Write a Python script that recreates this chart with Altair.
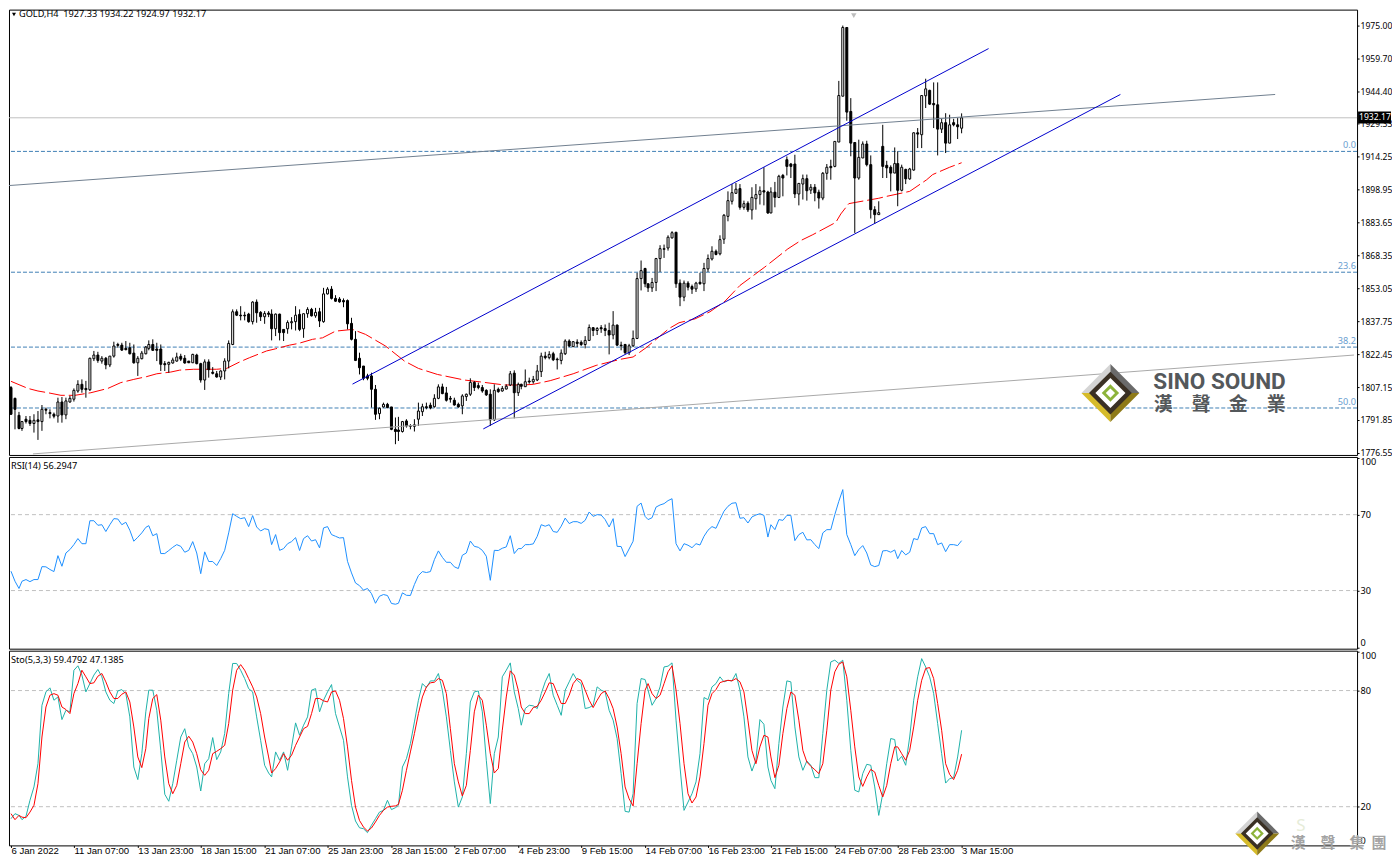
import altair as alt
import pandas as pd

# ---- price panel values, read bar by bar (H4 bars) ----
direction = ("BBBWBBWBWB" "BBWBWWWWBB" "WWBWBWWBBB" "BBWWWWBBBB" "WWWBBBWBBW" "BBBWWWWBBB" "BWBBWBBWBB" "WWWBWWBWBW"
             "WBBBBBBBBB" "BBBWWBBBBW" "BWWWWBBWWB" "BBBBWWWBBB" "BBWBWWWBWB" "WBWWWBWBBW" "WBWBBWWBWB" "BBWBBBWWWW"
             "BBWWWWWWBB" "WBBWBWWWBW" "WWWWBWBWWW" "BBWBWBBBBW" "WBWBBWWBWW" "WBBBWWBBBW" "BBBWBWBWWB" "WWBBBWBWBB" "W")
highs = [1807.6,1802.2,1795.6,1791.4,1793.7,1793.7,1794.5,1796.0,1798.8,1797.6,
1796.8,1795.3,1802.2,1802.5,1802.2,1803.0,1806.5,1810.3,1810.7,1810.0,
1820.8,1823.9,1823.5,1821.5,1821.1,1821.5,1828.2,1827.7,1827.7,1828.5,
1827.7,1826.9,1821.5,1823.9,1826.2,1828.8,1829.3,1827.7,1826.9,1819.2,
1818.9,1820.8,1823.1,1822.6,1822.0,1819.2,1822.6,1822.6,1818.4,1820.0,
1820.0,1816.4,1814.6,1814.9,1820.5,1828.8,1843.2,1843.2,1844.7,1842.1,
1841.6,1847.0,1847.8,1842.4,1842.4,1842.4,1843.2,1841.3,1841.2,1833.9,
1838.1,1839.6,1844.7,1843.2,1841.2,1844.2,1843.9,1843.9,1843.9,1853.2,
1853.5,1854.0,1849.8,1848.9,1848.3,1847.8,1839.3,1833.1,1823.1,1816.9,
1813.3,1813.8,1808.1,1797.6,1799.9,1799.8,1797.9,1793.0,1793.3,1791.4,
1792.2,1789.9,1792.2,1799.9,1799.4,1799.9,1799.9,1803.8,1808.4,1808.7,
1807.2,1803.0,1802.2,1799.9,1803.8,1804.1,1811.2,1809.9,1809.2,1808.1,
1806.1,1806.1,1808.4,1806.9,1807.6,1808.4,1814.6,1814.9,1809.2,1808.7,
1815.3,1811.5,1812.3,1817.4,1823.1,1823.5,1823.8,1823.5,1820.8,1824.6,
1829.3,1829.3,1828.5,1829.3,1828.8,1830.8,1836.2,1835.0,1835.0,1835.9,
1836.2,1837.0,1842.4,1836.2,1828.2,1827.2,1827.2,1833.4,1860.2,1865.9,
1862.5,1855.1,1857.8,1867.1,1873.0,1873.3,1877.6,1879.5,1879.2,1857.1,
1856.6,1856.3,1854.7,1856.0,1860.2,1864.8,1868.7,1872.5,1871.0,1877.6,
1887.5,1898.0,1901.4,1901.9,1901.4,1893.7,1893.4,1899.9,1901.4,1900.3,
1909.2,1898.3,1899.9,1902.4,1905.7,1906.1,1914.2,1911.2,1915.0,1901.9,
1905.8,1905.8,1901.4,1901.4,1898.8,1907.0,1910.7,1912.7,1921.2,1949.3,
1975.0,1974.1,1941.3,1920.9,1922.0,1921.2,1921.5,1914.7,1891.1,1893.4,
1928.9,1912.2,1910.1,1918.4,1916.6,1910.4,1908.5,1908.9,1925.4,1927.4,
1942.5,1950.3,1945.2,1948.6,1948.6,1931.7,1934.3,1933.6,1931.7,1932.0,
1934.22]
body_top = [1806.9,1801.9,1794.0,1791.1,1792.2,1791.7,1791.7,1791.9,1796.8,1796.8,
1795.3,1794.5,1800.2,1800.2,1800.7,1801.9,1805.6,1808.4,1808.4,1806.5,
1820.5,1822.0,1822.0,1820.5,1820.5,1821.5,1826.2,1826.9,1826.6,1825.1,
1825.4,1822.9,1820.5,1822.9,1825.7,1826.9,1826.9,1824.8,1824.8,1818.0,
1818.6,1819.7,1821.1,1821.4,1820.5,1819.2,1822.3,1822.0,1818.0,1818.8,
1818.8,1814.0,1813.3,1814.6,1819.2,1827.4,1842.1,1842.1,1840.5,1840.5,
1841.0,1846.6,1846.6,1841.8,1841.3,1841.5,1841.0,1841.0,1841.0,1833.9,
1837.1,1837.5,1840.5,1840.9,1841.2,1843.2,1843.2,1841.8,1842.1,1850.4,
1852.6,1852.6,1848.3,1848.0,1847.3,1847.3,1836.7,1829.3,1820.5,1816.9,
1812.3,1812.3,1806.1,1797.3,1799.1,1799.1,1797.9,1787.5,1787.2,1791.1,
1791.4,1789.2,1789.6,1796.0,1798.0,1798.0,1798.7,1801.9,1807.2,1807.2,
1804.4,1801.9,1801.0,1799.1,1803.0,1803.8,1809.3,1809.3,1807.8,1806.9,
1805.6,1803.8,1805.6,1806.1,1806.5,1807.5,1813.3,1813.6,1808.4,1808.4,
1809.6,1809.9,1810.7,1814.6,1821.5,1821.5,1822.3,1822.6,1820.1,1822.9,
1828.5,1828.5,1828.2,1828.0,1827.9,1828.8,1834.8,1834.7,1834.3,1834.7,
1834.3,1833.4,1835.9,1835.9,1826.6,1826.9,1826.3,1829.7,1857.5,1861.2,
1862.2,1855.1,1855.7,1866.8,1871.4,1871.4,1876.7,1878.8,1879.0,1855.4,
1855.4,1855.4,1853.8,1855.4,1855.8,1862.2,1866.8,1870.2,1870.2,1875.6,
1886.9,1893.7,1897.4,1899.0,1899.3,1892.3,1892.5,1895.2,1896.5,1898.3,
1898.3,1897.7,1897.7,1897.6,1905.0,1905.4,1912.7,1910.7,1910.7,1901.7,
1903.9,1903.9,1899.9,1899.9,1897.6,1906.4,1909.2,1909.6,1921.2,1942.5,
1974.1,1974.1,1935.1,1920.7,1913.8,1920.0,1920.0,1910.4,1889.5,1888.1,
1918.9,1910.1,1909.2,1910.9,1910.9,1909.2,1908.2,1908.4,1925.2,1925.2,
1942.5,1945.6,1944.9,1938.8,1938.2,1929.9,1929.9,1928.9,1929.9,1928.9,
1932.17]
body_bottom = [1794.5,1796.8,1787.9,1787.9,1791.1,1790.2,1790.2,1791.1,1791.1,1796.4,
1794.8,1793.6,1793.7,1794.2,1794.2,1800.2,1801.5,1805.3,1806.1,1805.9,
1805.9,1820.3,1819.5,1819.2,1817.4,1817.4,1821.5,1826.5,1824.3,1824.5,
1822.6,1818.4,1818.4,1820.3,1822.6,1825.1,1824.2,1824.2,1817.7,1817.5,
1817.7,1818.3,1819.2,1820.1,1818.3,1818.4,1818.4,1818.0,1810.4,1810.4,
1815.2,1813.5,1811.8,1811.8,1814.6,1819.2,1826.9,1840.5,1840.2,1840.2,
1837.5,1837.5,1841.6,1839.8,1839.8,1840.9,1834.2,1834.2,1832.4,1832.4,
1834.2,1837.0,1837.5,1833.9,1834.2,1841.2,1840.2,1840.2,1837.8,1837.5,
1850.4,1848.3,1847.0,1846.7,1846.7,1836.5,1829.3,1819.5,1816.1,1811.2,
1811.2,1806.1,1794.5,1794.8,1797.9,1797.6,1787.5,1786.5,1786.5,1786.5,
1789.1,1788.9,1788.9,1792.2,1795.7,1797.6,1797.4,1798.0,1801.9,1804.1,
1801.0,1801.5,1798.8,1797.9,1798.4,1802.7,1803.8,1806.9,1806.9,1805.3,
1803.5,1791.9,1791.9,1805.0,1805.3,1806.2,1808.1,1804.5,1804.5,1807.5,
1807.3,1809.5,1809.6,1810.4,1814.3,1820.8,1820.8,1819.8,1819.8,1819.5,
1822.6,1826.2,1825.9,1827.4,1826.9,1826.9,1828.8,1833.4,1833.4,1834.2,
1833.4,1831.3,1831.3,1826.6,1826.3,1823.1,1823.1,1826.3,1829.7,1857.5,
1855.1,1853.2,1853.2,1855.7,1866.8,1871.1,1871.7,1876.4,1855.1,1848.9,
1848.9,1853.5,1852.6,1852.7,1855.1,1855.1,1862.0,1866.6,1868.7,1869.0,
1875.8,1886.4,1893.4,1897.1,1890.6,1890.6,1889.4,1889.4,1894.6,1896.5,
1897.7,1888.0,1888.0,1895.2,1895.2,1904.2,1909.6,1909.6,1896.8,1896.8,
1901.4,1898.3,1898.6,1897.3,1894.9,1894.9,1906.4,1909.0,1909.6,1920.9,
1942.2,1934.8,1920.4,1904.2,1904.2,1913.5,1910.4,1889.5,1887.2,1887.2,
1909.6,1908.9,1906.5,1906.5,1898.5,1898.5,1903.8,1903.8,1907.9,1924.6,
1924.3,1942.4,1938.5,1938.2,1926.9,1926.9,1920.4,1920.4,1928.9,1928.0,
1927.33]
lows = [1794.2,1787.5,1787.5,1786.8,1790.2,1789.1,1786.0,1782.6,1786.8,1794.5,
1792.6,1792.6,1790.6,1790.6,1792.2,1799.9,1800.4,1804.5,1804.5,1802.2,
1805.3,1819.2,1818.4,1818.0,1815.4,1816.4,1820.8,1825.4,1823.9,1824.2,
1822.3,1818.0,1812.3,1820.0,1822.3,1824.2,1823.9,1819.2,1814.6,1814.6,
1813.8,1818.0,1818.9,1819.2,1818.0,1818.3,1818.3,1817.7,1809.2,1805.8,
1811.5,1813.0,1811.5,1810.4,1810.7,1815.8,1826.6,1840.1,1838.1,1838.1,
1837.0,1836.2,1837.0,1837.8,1836.5,1839.6,1828.8,1830.8,1828.8,1828.5,
1831.9,1833.9,1833.4,1833.1,1830.0,1839.3,1839.9,1839.3,1835.0,1837.0,
1850.1,1847.8,1846.7,1846.3,1844.2,1833.9,1828.8,1819.2,1813.0,1810.3,
1810.3,1797.6,1791.9,1792.2,1797.6,1797.3,1787.1,1780.6,1782.1,1786.0,
1788.3,1787.5,1786.5,1789.1,1793.7,1796.8,1796.8,1797.6,1801.5,1803.8,
1800.4,1799.9,1798.5,1797.6,1794.5,1800.7,1803.0,1805.3,1806.1,1804.5,
1803.0,1789.1,1791.4,1804.5,1805.0,1806.1,1807.6,1792.6,1803.0,1806.1,
1807.2,1808.7,1808.7,1809.9,1811.8,1820.0,1820.0,1819.2,1815.3,1817.7,
1822.0,1825.7,1825.7,1825.7,1826.2,1825.1,1828.5,1830.8,1831.3,1832.3,
1830.8,1822.3,1829.3,1826.2,1824.2,1822.3,1822.0,1825.7,1829.4,1852.0,
1853.5,1851.3,1851.3,1851.7,1860.6,1867.1,1870.5,1876.1,1853.2,1844.7,
1847.0,1852.0,1850.4,1851.3,1854.7,1851.7,1860.6,1865.9,1868.3,1868.3,
1873.6,1884.1,1891.9,1896.8,1889.5,1889.5,1888.4,1884.9,1889.5,1891.9,
1891.5,1887.5,1887.8,1890.6,1894.9,1895.7,1905.4,1904.2,1894.9,1891.5,
1894.2,1893.7,1896.8,1893.4,1890.0,1893.9,1903.4,1903.4,1909.2,1920.9,
1942.1,1930.8,1914.3,1878.7,1903.4,1913.5,1909.6,1885.4,1882.9,1887.2,
1904.2,1904.2,1898.0,1906.5,1891.1,1898.0,1901.4,1903.4,1907.6,1918.1,
1918.1,1936.7,1938.2,1927.4,1914.7,1925.1,1915.8,1920.4,1928.2,1922.3,
1924.97]

ma_bars = [0,4.5,7,9.5,12.8,16.2,20.3,24.5,27.8,31.2,34.5,37,40.3,42.8,46.2,52,54.5,57.8,60.3,64.5,67,70.3,72.8,76.2,78.7,82,86.2,89.5,94.5,99.5,102.8,107.8,114.5,
119.5,124.5,129.5,132,136.2,142,147.8,153.7,157,160.3,166.2,168.7,172.8,176.6,180.3,184.1,190.3,196.2,199.5,202.4,208.2,209.5,211.6,213.2,219.1,221.2,225.3,227,231.2,232.8,237,239.9]
ma_vals = [1809.8,1806.5,1805.3,1804.5,1803.3,1803.3,1804.5,1806.5,1809.2,1810.7,1812.0,1813.3,1814.1,1815.0,1815.4,1815.4,1815.8,1818.8,1820.8,1823.9,1824.9,1826.6,1827.4,1829.3,1830.0,1833.1,1833.9,1831.6,1826.2,1819.2,1815.8,1813.0,1810.4,
1809.3,1808.1,1808.1,1808.4,1810.1,1813.3,1817.2,1820.0,1821.1,1825.4,1834.3,1837.0,1838.8,1842.1,1847.0,1854.3,1862.9,1871.3,1875.2,1877.9,1883.6,1887.5,1892.3,1892.9,1894.8,1895.7,1897.4,1898.0,1903.4,1905.8,1909.2,1911.3]

rsi = [40.2,34.9,31.1,34.9,35.8,34.7,35.8,35.8,42.6,42.5,41.1,40.0,48.4,42.8,49.8,51.6,54.2,57.4,54.7,54.7,
66.8,66.8,64.4,64.7,61.1,64.7,67.9,67.7,64.7,66.0,61.8,56.0,58.1,60.4,63.3,64.2,58.9,60.0,49.5,49.5,
51.1,52.8,54.2,53.3,50.2,51.2,55.8,49.8,38.9,50.4,45.3,45.3,43.2,46.8,51.2,60.4,70.5,69.1,67.9,68.4,
63.7,69.5,63.5,61.4,62.6,62.1,54.2,59.5,51.2,52.1,54.7,55.8,57.9,51.1,57.4,58.9,56.1,56.8,52.5,63.0,
63.7,59.5,58.6,57.7,57.9,45.4,39.3,34.0,32.6,30.2,31.1,28.4,23.3,27.0,27.9,27.4,23.2,22.8,23.3,28.8,
27.5,27.4,33.2,37.9,40.0,39.5,40.0,46.3,50.9,47.5,44.9,44.9,42.5,41.6,48.6,49.8,56.1,53.3,52.8,51.2,
48.1,35.4,51.2,51.1,52.3,53.0,58.9,49.5,52.1,52.1,54.2,54.2,54.6,58.6,64.7,63.9,64.7,61.1,60.7,63.9,
68.2,65.3,66.3,66.3,65.4,67.0,71.4,69.1,70.0,69.8,67.4,63.5,67.9,53.3,53.2,47.9,51.9,56.0,74.4,76.1,
69.1,67.4,68.4,74.0,75.1,75.8,77.4,78.4,54.7,50.9,54.7,53.9,52.6,54.7,54.0,58.6,61.8,63.7,62.8,67.4,
71.8,74.4,76.0,76.3,68.1,68.4,65.6,68.8,69.8,70.5,69.6,58.2,64.7,62.1,67.4,67.0,69.6,69.6,56.3,59.5,
60.7,56.7,56.8,54.2,52.1,60.4,62.1,62.1,70.0,77.0,83.2,59.5,54.2,48.4,51.6,53.7,49.8,43.5,42.6,43.2,
50.9,51.1,50.2,51.4,46.8,51.1,48.8,50.2,57.4,56.8,63.0,63.7,60.0,60.0,54.2,55.1,50.5,54.2,54.2,53.7,56.29]

sto_main = [13.8,16.4,15.5,13.3,15.0,23.3,30.2,42.2,72.4,79.3,81.4,75.0,76.7,65.0,69.8,69.0,90.5,92.8,88.0,79.3,
83.6,88.0,90.9,87.1,79.3,75.0,73.3,79.8,80.5,78.4,66.4,40.5,34.0,47.4,69.0,80.2,80.2,69.8,49.1,26.4,
22.8,31.9,44.0,56.0,60.3,50.9,47.4,40.5,28.1,42.2,44.8,55.7,44.3,48.3,57.8,78.4,94.0,94.0,90.5,86.2,
81.0,79.3,66.4,54.3,41.4,37.4,35.4,48.3,44.0,48.3,38.8,50.9,63.3,56.9,62.1,66.4,80.2,81.0,69.0,75.0,
79.3,83.1,68.1,61.2,54.3,35.4,20.7,12.6,9.1,8.6,6.6,10.4,13.8,17.2,18.1,23.3,18.5,19.5,20.7,40.5,
44.8,52.6,63.8,75.0,83.6,81.5,85.0,85.0,88.8,80.2,66.4,49.1,32.8,19.8,25.0,47.4,74.1,79.3,79.8,69.0,
44.0,21.6,47.4,56.0,87.1,90.5,94.3,79.3,70.7,62.1,70.7,72.4,72.1,70.7,78.4,84.5,88.8,77.6,72.4,67.2,
80.2,84.5,88.8,85.3,83.6,70.7,71.2,72.4,81.9,80.2,79.3,69.8,64.7,55.2,37.1,17.6,17.2,26.7,73.3,86.2,
85.7,80.2,72.4,75.9,81.9,92.2,92.6,94.3,64.7,40.5,18.1,22.4,26.7,32.8,47.4,76.4,75.3,81.9,83.6,87.1,
84.5,85.3,85.0,88.8,80.2,66.4,45.7,38.4,44.0,65.0,62.6,40.5,33.6,29.3,52.6,71.5,85.0,84.5,61.2,45.7,
38.8,43.6,41.4,35.0,35.0,57.8,80.2,94.8,95.7,94.0,95.7,75.0,49.1,28.5,27.6,37.1,41.9,41.4,30.2,15.5,
26.7,42.2,55.2,54.7,43.6,46.0,41.4,56.0,75.0,87.1,96.5,92.2,87.1,78.4,62.9,47.4,32.2,34.5,35.0,45.7,59.48]

sto_signal = [16.4,13.3,15.5,14.6,14.3,17.2,20.7,31.9,56.0,71.5,77.6,78.4,77.6,71.5,70.2,68.1,78.4,83.6,90.5,87.1,
83.6,84.0,87.4,88.8,84.5,79.3,75.9,75.9,78.1,79.3,74.1,61.2,45.7,40.2,50.0,65.5,75.9,77.9,64.7,45.7,
31.9,26.7,31.0,42.2,53.4,56.4,53.4,47.4,39.1,36.2,38.8,47.4,48.6,50.0,51.7,62.9,80.2,90.5,93.4,90.5,
86.2,81.9,76.7,68.1,56.0,45.7,37.4,39.7,43.1,47.4,44.0,46.6,51.7,56.0,60.3,61.5,68.1,75.9,75.9,74.7,
74.1,79.3,79.8,75.0,65.5,50.9,33.6,19.8,12.9,9.5,7.4,9.0,12.1,15.5,18.1,19.8,20.2,20.4,21.2,28.5,
38.8,48.3,57.8,68.1,76.7,81.9,84.0,84.3,86.2,85.3,78.4,60.3,42.2,32.8,25.5,31.0,49.1,69.0,77.6,75.0,
62.1,47.4,37.4,39.7,59.5,76.7,90.2,88.0,80.2,71.5,68.1,68.1,71.2,71.9,75.0,79.3,84.0,83.6,78.4,73.3,
73.3,77.6,83.6,86.2,85.3,80.2,75.0,71.2,75.0,78.4,79.8,75.9,70.7,61.2,47.4,30.2,24.1,20.4,42.2,62.9,
80.2,83.6,78.4,75.9,77.6,83.6,89.7,92.8,80.2,62.9,42.2,26.7,21.9,25.0,35.4,52.6,72.4,78.4,80.5,84.1,
84.8,85.3,85.0,86.2,84.5,79.3,64.7,49.1,42.2,50.9,56.9,56.0,45.7,35.0,41.4,57.8,70.7,79.3,77.6,64.7,
49.1,43.1,40.9,39.1,37.1,42.2,59.5,80.2,89.7,93.6,94.8,87.1,69.8,50.9,35.4,30.5,35.4,39.3,37.9,31.0,
25.0,31.0,42.2,50.9,50.9,47.4,44.0,49.1,61.2,75.0,85.3,91.4,91.9,86.2,73.3,59.5,42.2,36.7,34.0,38.8,47.14]

time_labels = ["6 Jan 2022","11 Jan 07:00","13 Jan 23:00","18 Jan 15:00","21 Jan 07:00","25 Jan 23:00","28 Jan 15:00","2 Feb 07:00",
               "4 Feb 23:00","9 Feb 15:00","14 Feb 07:00","16 Feb 23:00","21 Feb 15:00","24 Feb 07:00","28 Feb 23:00","3 Mar 15:00"]
price_ticks = [1975.00,1959.70,1944.40,1929.33,1914.25,1898.95,1883.65,1868.35,1853.05,1837.75,1822.45,1807.15,1791.85,1776.55]
fib_prices = [1916.56,1860.46,1825.69,1797.41]
fib_names = ["0.0","23.6","38.2","50.0"]
last_price = 1932.17
channel_upper = ([86.25,246.75],[1808.5,1964.3])
channel_lower = ([119.25,280.0],[1787.7,1943.0])
trend_dark = ([-0.3,319.25],[1900.7,1943.0])
trend_light = ([5.75,339.0],[1776.1,1822.0])

FONT = "Noto Sans"
SIZE = 9.2
W = 1350
xscale = alt.Scale(domain=[-0.4, 339.8], nice=False, zero=False, round=True, padding=0)
pscale = alt.Scale(domain=[1775.6, 1982.4], nice=False, zero=False)
rscale = alt.Scale(domain=[-0.63, 100.4], nice=False, zero=False)
sscale = alt.Scale(domain=[0.0, 100.6], nice=False, zero=False)

n = len(rsi)
bars = list(range(n))
opens = [b if d == "W" else t for d, t, b in zip(direction, body_top, body_bottom)]
closes = [t if d == "W" else b for d, t, b in zip(direction, body_top, body_bottom)]
df = pd.DataFrame({"bar": bars, "o": opens, "h": highs, "l": lows, "c": closes,
                   "top": body_top, "bottom": body_bottom, "up": [d == "W" for d in direction]})

price_axis = alt.Axis(orient="right", values=price_ticks, format=".2f", grid=False, domain=False,
                      tickSize=2, tickColor="black", labelPadding=1, labelColor="black", labelFontSize=8.6,
                      labelOverlap=False, labelBound=False, labelFlush=False)
X = alt.X("bar:Q", scale=xscale, axis=None)
def Yp(f): return alt.Y(f, type="quantitative", scale=pscale, axis=price_axis, title=None)

def text_mark(txt, px, py, color="black", size=SIZE, align="left", font=FONT, weight="normal", baseline="middle"):
    return alt.Chart(pd.DataFrame({"t": [txt]})).mark_text(
        align=align, baseline=baseline, font=font, fontSize=size, color=color, fontWeight=weight
    ).encode(x=alt.value(px), y=alt.value(py), text="t:N")

def shape_mark(path, cx, cy, h, color):
    return alt.Chart(pd.DataFrame({"k": [0]})).mark_point(
        shape=path, filled=True, size=(2 * h) ** 2, color=color, opacity=1, strokeWidth=0
    ).encode(x=alt.value(cx), y=alt.value(cy))

D = "M-1 0L0 -1L1 0L0 1Z"
def logo(cx, cy, h):
    return [
        shape_mark("M-1 0L0 -1L0 0Z", cx, cy, h, "#d4d4d4"),
        shape_mark("M0 -1L1 0L0 0Z", cx, cy, h, "#6a6a6a"),
        shape_mark("M-1 0L0 1L0 0Z", cx, cy, h, "#d6bb2a"),
        shape_mark("M1 0L0 1L0 0Z", cx, cy, h, "#8e7a18"),
        shape_mark(D, cx, cy, h * 0.74, "#3a3024"),
        shape_mark(D, cx, cy, h * 0.52, "#ffffff"),
        shape_mark(D, cx, cy, h * 0.30, "#8db33a"),
        shape_mark(D, cx, cy, h * 0.16, "#ffffff"),
    ]

def seg(xy, color, width=1):
    return alt.Chart(pd.DataFrame({"bar": xy[0], "p": xy[1]})).mark_line(
        color=color, strokeWidth=width, clip=True
    ).encode(x=X, y=Yp("p"))

# price panel (panel coordinates = page pixel minus 8)
axis_layer = alt.Chart(pd.DataFrame({"p": [last_price]})).mark_rule(color="#c0c0c0", strokeWidth=1).encode(y=Yp("p"))
fib_df = pd.DataFrame({"p": fib_prices, "name": fib_names})
fib_rules = alt.Chart(fib_df).mark_rule(color="#3f7fb5", strokeWidth=1, strokeDash=[4, 2]).encode(y=Yp("p"))
fib_text = alt.Chart(fib_df).mark_text(align="right", baseline="bottom", dy=-1, font=FONT, fontSize=SIZE, color="#6aa0d0").encode(
    x=alt.value(1349), y=Yp("p"), text="name:N")
ma_line = alt.Chart(pd.DataFrame({"bar": ma_bars, "p": ma_vals})).mark_line(
    color="red", strokeWidth=1, strokeDash=[16, 4]).encode(x=X, y=Yp("p"))
wicks = alt.Chart(df).mark_rule(color="black", strokeWidth=1).encode(x=X, y=Yp("l"), y2=alt.Y2("h"))
bodies = alt.Chart(df).mark_bar(size=2, stroke="black", strokeWidth=1).encode(
    x=X, y=Yp("bottom"), y2=alt.Y2("top"),
    fill=alt.condition("datum.up", alt.value("white"), alt.value("black")))
price_box = alt.Chart(pd.DataFrame({"k": [0]})).mark_rect(color="black").encode(
    x=alt.value(1351), x2=alt.value(1384), y=alt.value(102), y2=alt.value(114))
price_txt = text_mark("1932.17", 1352, 108, color="white", size=8.6)

main_layers = [axis_layer, fib_rules, fib_text, ma_line, wicks, bodies,
               seg(trend_light, "#a9a9a9"), seg(trend_dark, "#708090"),
               seg(channel_upper, "#0000cd"), seg(channel_lower, "#0000cd"),
               price_box, price_txt]
main_layers += [
    alt.Chart(pd.DataFrame({"k": [0]})).mark_point(shape="triangle-down", filled=True, size=16, color="black", opacity=1, strokeWidth=0).encode(x=alt.value(5), y=alt.value(5)),
    text_mark("GOLD,H4\u00a0\u00a01927.33 1934.22 1924.97 1932.17", 10, 4),
    alt.Chart(pd.DataFrame({"k": [0]})).mark_point(shape="triangle-down", filled=True, size=30, color="#bdbdbd", opacity=1, strokeWidth=0).encode(x=alt.value(846), y=alt.value(6)),
]
main_layers += logo(1103, 384, 29)
main_layers.append(text_mark("SINO SOUND", 1146, 380, color="#54585b", size=22.6, font="Roboto", weight="bold", baseline="alphabetic"))
for ch, px in zip("漢聲金業", [1156, 1194, 1231, 1269]):
    main_layers.append(text_mark(ch, px, 396, color="#54585b", size=19, align="center", font="Noto Sans CJK TC", weight="bold"))

price_panel = alt.layer(*main_layers).properties(width=W, height=446)

def sub_axis(ticks):
    return alt.Axis(orient="right", values=ticks, format="d", grid=False, domain=False,
                    tickSize=2, tickColor="black", labelPadding=1, labelColor="black",
                    labelOverlap=False, labelBound=False, labelFlush=False,
                    labelBaseline=alt.expr("datum.value==100?'top':datum.value==0?'bottom':'middle'"))

# RSI panel
rsi_levels = [70, 30]
rsi_ticks = [100, 70, 30, 0]
rsi_axis = sub_axis(rsi_ticks)
rsi_rule = alt.Chart(pd.DataFrame({"v": rsi_levels})).mark_rule(color="#c0c0c0", strokeWidth=1, strokeDash=[4, 3]).encode(
    y=alt.Y("v:Q", scale=rscale, axis=rsi_axis, title=None))
rsi_line = alt.Chart(pd.DataFrame({"bar": bars, "v": rsi})).mark_line(color="#1e90ff", strokeWidth=1).encode(
    x=X, y=alt.Y("v:Q", scale=rscale, axis=rsi_axis, title=None))
rsi_panel = alt.layer(rsi_rule, rsi_line, text_mark("RSI(14) 56.2947", 2, 9)).properties(width=W, height=192)

# Stochastic panel
sto_levels = [80, 20]
sto_ticks = [100, 80, 20, 0]
sto_axis = sub_axis(sto_ticks)
sto_rule = alt.Chart(pd.DataFrame({"v": sto_levels})).mark_rule(color="#c0c0c0", strokeWidth=1, strokeDash=[4, 3]).encode(
    y=alt.Y("v:Q", scale=sscale, axis=sto_axis, title=None))
label_expr = "[" + ",".join("'%s'" % t for t in time_labels) + "][datum.value/16]"
x_bottom = alt.X("bar:Q", scale=xscale, title=None,
                 axis=alt.Axis(values=list(range(0, 241, 16)), labelExpr=label_expr, labelAlign="left", grid=False, domain=False,
                               tickSize=2, tickColor="black", labelPadding=-2, labelColor="black",
                               labelFont="Liberation Sans", labelFontSize=9.6,
                               labelOverlap=False, labelBound=False, labelFlush=False))
sto_df = pd.DataFrame({"bar": bars, "v": sto_main, "s": sto_signal})
sto_l1 = alt.Chart(sto_df).mark_line(color="#20b2aa", strokeWidth=1).encode(x=x_bottom, y=alt.Y("v:Q", scale=sscale, axis=sto_axis, title=None))
sto_l2 = alt.Chart(sto_df).mark_line(color="red", strokeWidth=1).encode(x=x_bottom, y=alt.Y("s:Q", scale=sscale, axis=sto_axis, title=None))
sto_layers = [sto_rule, sto_l1, sto_l2, text_mark("Sto(5,3,3) 59.4792 47.1385", 2, 9)]
sto_layers += logo(1250, 183, 22)
sto_layers.append(text_mark("S", 1289, 176, color="#e6ecd8", size=17))
for ch, px in zip("漢聲集團", [1291, 1321, 1350, 1372]):
    sto_layers.append(text_mark(ch, px, 193, color="#a3a3a3", size=15, align="center", font="Noto Sans CJK TC", weight="bold"))
sto_panel = alt.layer(*sto_layers).properties(width=W, height=195)

chart = alt.vconcat(price_panel, rsi_panel, sto_panel, spacing=2, bounds="flush").properties(
    padding={"left": 0, "top": 0, "right": -1, "bottom": 0}
).configure_view(
    stroke="black", strokeWidth=1
).configure_axis(labelFont=FONT, labelFontSize=SIZE)

chart.save("out.html", embed_options={"renderer": "svg", "actions": False})
